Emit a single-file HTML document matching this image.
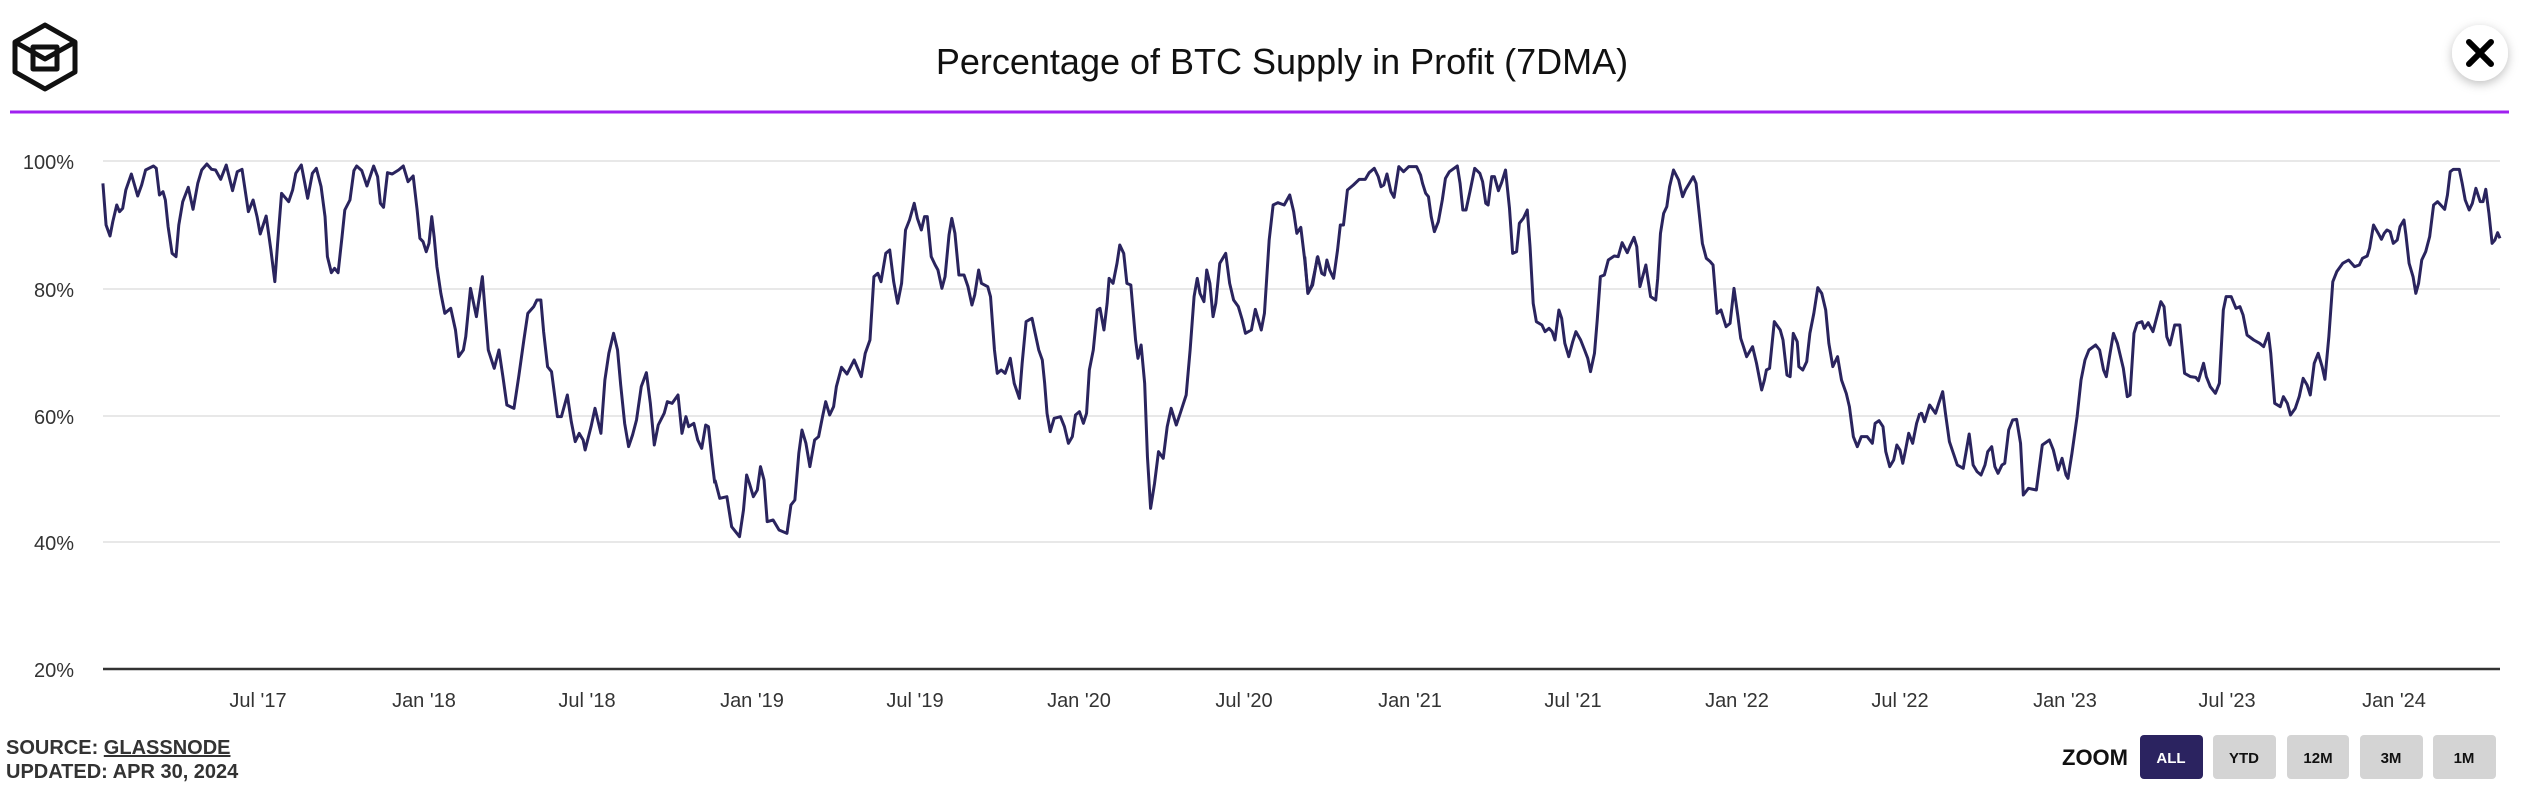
<!DOCTYPE html>
<html><head><meta charset="utf-8"><style>
html,body{margin:0;padding:0;background:#fff;width:2529px;height:810px;overflow:hidden;font-family:"Liberation Sans",sans-serif}
</style></head><body>
<svg width="2529" height="810" viewBox="0 0 2529 810" xmlns="http://www.w3.org/2000/svg" style="position:absolute;left:0;top:0">
<defs><filter id="sh" x="-50%" y="-50%" width="200%" height="200%"><feDropShadow dx="0" dy="3" stdDeviation="5" flood-color="#000" flood-opacity="0.25"/></filter></defs>
<g fill="none" stroke="#111" stroke-width="5" stroke-linejoin="round">
<polygon points="45,25 75,42 75,72 45,89 15,72 15,42"/>
<polyline points="15,42 45,59 75,42"/>
<rect x="33" y="47" width="24" height="22"/>
</g>
<circle cx="2480" cy="53" r="28" fill="#fff" filter="url(#sh)"/>
<g stroke="#000" stroke-width="6" stroke-linecap="round"><line x1="2469" y1="42" x2="2491" y2="64"/><line x1="2491" y1="42" x2="2469" y2="64"/></g>
<text x="1282" y="74" text-anchor="middle" font-size="36" fill="#111">Percentage of BTC Supply in Profit (7DMA)</text>
<line x1="10" y1="112" x2="2509" y2="112" stroke="#a020f0" stroke-width="3"/>
<g stroke="#e8e8e8" stroke-width="2">
<line x1="103" y1="161" x2="2500" y2="161"/><line x1="103" y1="289" x2="2500" y2="289"/>
<line x1="103" y1="416" x2="2500" y2="416"/><line x1="103" y1="542" x2="2500" y2="542"/>
</g>
<line x1="103" y1="669" x2="2500" y2="669" stroke="#333" stroke-width="2.5"/>
<g font-size="20" fill="#333" text-anchor="end">
<text x="74" y="169">100%</text><text x="74" y="297">80%</text><text x="74" y="424">60%</text><text x="74" y="550">40%</text><text x="74" y="677">20%</text>
</g>
<g font-size="20" fill="#333" text-anchor="middle">
<text x="258" y="707">Jul '17</text><text x="424" y="707">Jan '18</text><text x="587" y="707">Jul '18</text><text x="752" y="707">Jan '19</text><text x="915" y="707">Jul '19</text><text x="1079" y="707">Jan '20</text><text x="1244" y="707">Jul '20</text><text x="1410" y="707">Jan '21</text><text x="1573" y="707">Jul '21</text><text x="1737" y="707">Jan '22</text><text x="1900" y="707">Jul '22</text><text x="2065" y="707">Jan '23</text><text x="2227" y="707">Jul '23</text><text x="2394" y="707">Jan '24</text>
</g>
<g fill="none" stroke="#2a245e" stroke-width="3" stroke-linejoin="round">
<g transform="translate(95,150) scale(0.39526,0.33333)">
<polyline vector-effect="non-scaling-stroke" points="20,100 28,225 38,258 45,215 55,165 62,185 70,175 78,120 92,72 108,138 118,105 128,60 148,48 155,55 163,135 172,125 178,150 185,230 195,310 205,320 212,225 222,155 236,112 248,178 260,100 270,60 283,42 295,58 305,60 318,88 332,45 348,122 360,65 372,58 388,185 400,150 410,200 418,252 433,198 445,300 455,395 462,280 472,130 490,155 500,120 508,70 522,45 538,145 550,70 560,55 572,110 582,200 588,320 598,368 606,355 615,368 625,260 632,180 645,150 655,62 662,48 675,62 688,108 705,48 715,80 722,160 730,172 740,68 752,72 768,60 780,48 792,95 805,78 815,180 822,265 830,275 838,305 845,280 852,200 858,260 865,350 875,430 885,490 900,475 912,540 920,620 932,600 938,560 950,415 965,500 980,380 995,600 1010,655 1022,600 1032,680 1042,765 1060,775 1072,680 1085,570 1095,490 1110,470 1118,450 1128,450 1135,545 1145,650 1155,665 1170,800 1180,800 1195,735 1205,815 1215,875 1225,850 1235,870 1240,900 1255,830 1265,775 1280,850 1290,690 1300,610 1312,550 1322,600 1330,705 1340,820 1350,890 1360,855 1370,810 1382,710 1395,668 1405,760 1415,885 1425,825 1440,790 1448,755 1460,760 1475,735 1485,850 1495,800 1502,830 1515,820 1525,870 1535,895 1545,825 1552,830 1562,940 1568,1000"/>
</g>
<g transform="translate(700,150) scale(0.39526,0.33333)">
<polyline vector-effect="non-scaling-stroke" points="38,990 50,1045 68,1040 80,1130 100,1160 110,1080 118,975 125,1000 135,1040 145,1020 153,950 162,990 170,1115 185,1110 200,1140 220,1150 230,1065 240,1050 250,910 258,840 268,880 278,950 290,870 300,860 310,800 318,755 328,795 338,770 345,710 358,652 372,672 390,630 408,680 418,610 430,570 440,380 450,370 458,395 470,310 480,300 490,395 500,460 510,400 520,240 530,210 542,160 550,205 560,240 568,200 575,200 585,320 595,345 602,360 612,415 620,380 630,255 637,205 645,250 655,375 668,375 678,410 688,465 695,435 705,360 712,400 728,410 735,440 745,600 752,670 762,660 772,670 785,625 795,700 808,745 815,640 825,515 832,510 840,505 848,550 857,600 866,630 872,700 878,790 886,845 896,805 912,800 922,830 932,880 942,860 950,795 960,785 970,820 978,790 985,660 995,600 1005,480 1012,475 1022,540 1030,460 1035,385 1045,400 1055,340 1062,285 1072,310 1080,400 1090,405 1102,570 1108,625 1116,585 1125,700 1132,920 1140,1075 1150,1000 1160,905 1172,925 1182,830 1192,775 1205,825 1215,790 1230,735 1240,600 1250,440 1258,385 1265,430 1275,455 1282,360 1290,400 1298,500 1305,460 1315,340 1330,310 1340,400 1350,450 1362,470 1372,510 1380,550 1395,540 1405,478 1420,540 1428,490 1440,270 1450,165 1462,158 1478,165 1492,135 1502,185 1510,250 1520,232 1530,330 1538,430 1550,405 1562,320"/>
</g>
<g transform="translate(1300,150) scale(0.39526,0.33333)">
<polyline vector-effect="non-scaling-stroke" points="12,320 20,430 30,405 45,320 55,370 62,375 68,330 75,360 85,385 95,300 102,225 110,225 120,120 135,105 150,88 165,88 175,68 188,55 198,80 205,110 212,105 220,72 230,125 238,142 250,50 262,65 275,50 295,50 305,75 310,100 318,130 325,140 332,200 340,245 350,215 360,150 368,85 378,65 398,48 405,100 412,180 420,180 430,125 442,55 455,70 462,95 470,160 476,165 485,80 492,80 502,122 510,98 520,60 530,175 538,310 548,305 555,220 565,205 575,180 582,290 590,460 598,515 612,525 620,545 630,535 638,545 645,570 655,480 662,505 670,580 680,620 690,575 698,545 710,570 720,600 728,625 735,665 745,610 752,510 760,380 770,375 780,330 795,318 805,320 815,278 828,308 836,285 845,262 852,290 860,410 875,345 887,440 900,450 905,385 912,250 920,190 928,170 935,110 945,60 958,90 968,140 975,120 985,100 995,80 1002,100 1010,190 1018,280 1028,325 1038,335 1045,345 1055,490 1065,480 1078,530 1088,520 1098,415 1108,500 1115,565 1122,590 1130,620 1145,590 1155,640 1168,720 1175,690 1180,660 1188,655 1200,515 1215,540 1222,570 1232,675 1240,680 1248,550 1258,575 1262,650 1272,660 1282,635 1290,550 1300,490 1310,413 1320,430 1330,480 1338,580 1348,650 1360,620 1370,690 1382,730 1390,770 1400,860 1410,890 1420,860 1435,860 1448,880 1455,820 1465,812 1475,830 1482,905 1492,950 1502,930 1510,885 1518,900 1525,940 1532,900 1540,850 1550,880 1560,820 1568,790"/>
</g>
<g transform="translate(1900,150) scale(0.39526,0.33333)">
<polyline vector-effect="non-scaling-stroke" points="50,790 55,790 62,815 75,765 90,790 98,760 108,725 115,790 125,875 135,910 145,945 160,955 168,900 175,852 185,945 195,965 205,975 215,945 222,905 232,890 240,950 248,970 258,945 265,940 275,840 285,810 295,808 305,880 312,1035 325,1015 345,1020 360,885 378,870 388,900 400,960 410,925 420,975 425,985 435,910 448,800 458,690 468,630 478,600 495,585 505,600 515,660 522,680 530,620 540,550 550,580 565,655 575,740 582,735 592,550 600,520 612,515 618,535 628,518 640,545 650,500 660,455 668,470 675,560 683,585 695,525 708,525 720,670 735,680 748,682 755,692 768,640 775,680 785,710 798,730 808,700 818,480 825,440 838,440 850,475 860,470 868,495 878,555 895,570 910,580 920,590 932,550 938,610 948,760 962,770 970,740 980,760 988,795 1000,775 1010,740 1020,685 1030,705 1038,735 1048,640 1058,610 1068,650 1075,688 1085,560 1095,395 1105,365 1120,340 1135,330 1150,350 1162,345 1170,325 1182,318 1188,295 1198,225 1210,250 1218,268 1225,250 1232,240 1240,245 1248,280 1258,270 1265,230 1275,210 1280,255 1288,340 1298,380 1305,430 1312,400 1320,330 1330,305 1340,260 1350,165 1360,155 1368,165 1378,178 1385,135 1392,65 1400,58 1415,58 1422,98 1430,150 1440,180 1448,160 1457,115 1468,155 1475,155 1482,118 1490,190 1498,280 1505,270 1512,248 1518,265"/>
</g>
</g>
<g font-size="20" font-weight="bold" fill="#333">
<text x="6" y="754">SOURCE: <tspan text-decoration="underline">GLASSNODE</tspan></text>
<text x="6" y="778">UPDATED: APR 30, 2024</text>
</g>
<text x="2128" y="765" text-anchor="end" font-size="22" font-weight="bold" fill="#111">ZOOM</text>
<g font-size="15" font-weight="bold" text-anchor="middle">
<rect x="2140" y="735" width="63" height="44" rx="4" fill="#2b2360"/><text x="2171" y="763" fill="#fff">ALL</text>
<rect x="2213" y="735" width="63" height="44" rx="4" fill="#d4d4d4"/><text x="2244" y="763" fill="#111">YTD</text>
<rect x="2287" y="735" width="62" height="44" rx="4" fill="#d4d4d4"/><text x="2318" y="763" fill="#111">12M</text>
<rect x="2360" y="735" width="63" height="44" rx="4" fill="#d4d4d4"/><text x="2391" y="763" fill="#111">3M</text>
<rect x="2433" y="735" width="63" height="44" rx="4" fill="#d4d4d4"/><text x="2464" y="763" fill="#111">1M</text>
</g>
</svg>
</body></html>
